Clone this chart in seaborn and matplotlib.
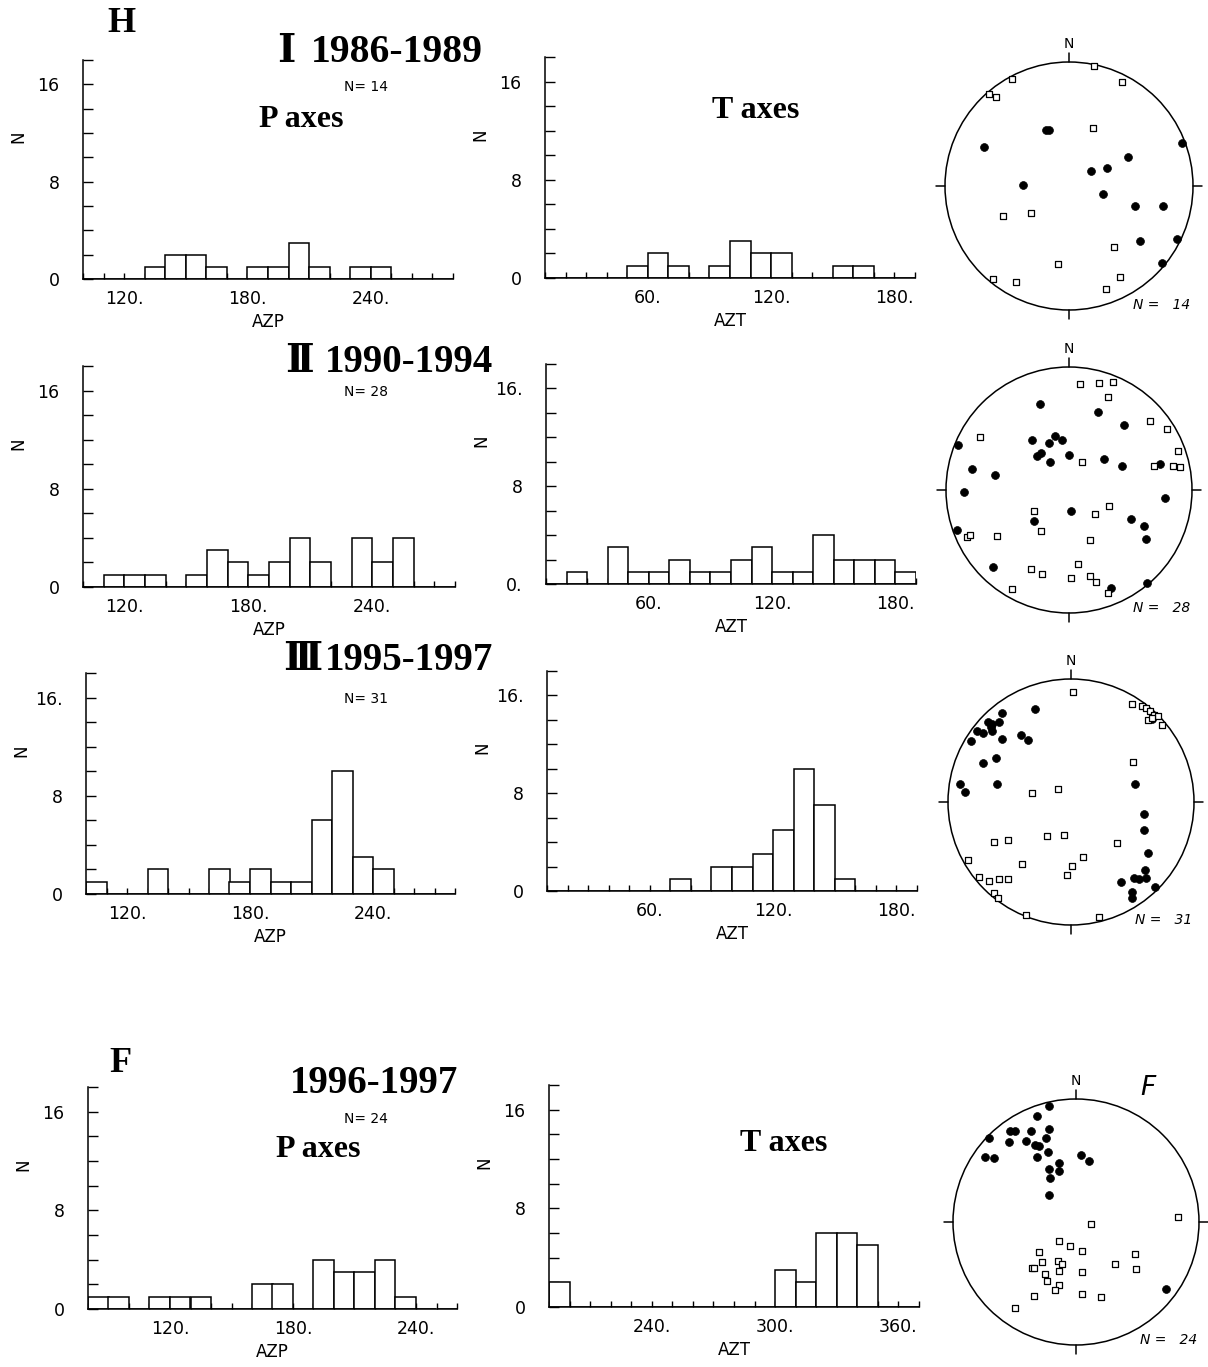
import numpy as np
import pandas as pd
import matplotlib
matplotlib.use("Agg")
import matplotlib.pyplot as plt
from matplotlib.patches import Circle
import seaborn as sns

W, H = 1208, 1367

# ---------------- azimuth histograms: bin start (deg) and count ----------------
p1_bins = [130, 140, 150, 160, 180, 190, 200, 210, 230, 240]
p1_counts = [1, 2, 2, 1, 1, 1, 3, 1, 1, 1]
t1_bins = [50, 60, 70, 90, 100, 110, 120, 150, 160]
t1_counts = [1, 2, 1, 1, 3, 2, 2, 1, 1]

p2_bins = [110, 120, 130, 150, 160, 170, 180, 190, 200, 210, 230, 240, 250]
p2_counts = [1, 1, 1, 1, 3, 2, 1, 2, 4, 2, 4, 2, 4]
t2_bins = [20, 40, 50, 60, 70, 80, 90, 100, 110, 120, 130, 140, 150, 160, 170, 180]
t2_counts = [1, 3, 1, 1, 2, 1, 1, 2, 3, 1, 1, 4, 2, 2, 2, 1]

p3_bins = [100, 130, 160, 170, 180, 190, 200, 210, 220, 230, 240]
p3_counts = [1, 2, 2, 1, 2, 1, 1, 6, 10, 3, 2]
t3_bins = [70, 90, 100, 110, 120, 130, 140, 150]
t3_counts = [1, 2, 2, 3, 5, 10, 7, 1]

p4_bins = [80, 90, 110, 120, 130, 160, 170, 190, 200, 210, 220, 230]
p4_counts = [1, 1, 1, 1, 1, 2, 2, 4, 3, 3, 4, 1]
t4_bins = [190, 300, 310, 320, 330, 340]
t4_counts = [2, 3, 2, 6, 6, 5]

# axis start of each histogram (each spans 180 degrees)
p_starts = [100, 100, 100, 80]
t_starts = [10, 10, 10, 190]
p_ticklabels = [[120, 180, 240]] * 4
t_ticklabels = [[60, 120, 180]] * 3 + [[240, 300, 360]]

period_titles = ["1986-1989", "1990-1994", "1995-1997", "1996-1997"]
period_numerals = ["\u2160", "\u2161", "\u2162", ""]
n_events = [14, 28, 31, 24]

# ---------------- stereonet projections (east, north) in units of net radius ----------------
# open squares
net1_sq_e = [0.20, 0.425, -0.457, -0.642, -0.589, 0.194, -0.530, -0.306, 0.366, -0.086, 0.411, 0.298, -0.616, -0.425]
net1_sq_n = [0.97, 0.84, 0.863, 0.739, 0.718, 0.468, -0.242, -0.220, -0.489, -0.632, -0.737, -0.831, -0.753, -0.774]
# filled dots
net1_dot_e = [-0.185, -0.164, -0.683, 0.911, 0.476, 0.175, 0.306, -0.368, 0.272, 0.532, 0.758, 0.573, 0.868, 0.750]
net1_dot_n = [0.454, 0.454, 0.312, 0.349, 0.234, 0.124, 0.148, 0.008, -0.067, -0.161, -0.161, -0.441, -0.430, -0.621]

net2_sq_e = [0.092, 0.244, 0.360, 0.314, 0.661, 0.799, 0.886, -0.726, 0.108, 0.691, 0.846, 0.905, -0.285, 0.325,
             0.209, -0.230, -0.832, -0.802, -0.583, 0.168, 0.076, -0.309, -0.220, 0.016, 0.171, 0.222, 0.314, -0.466]
net2_sq_n = [0.864, 0.873, 0.881, 0.756, 0.561, 0.496, 0.314, 0.428, 0.225, 0.198, 0.195, 0.187, -0.168, -0.133,
             -0.198, -0.336, -0.382, -0.363, -0.377, -0.404, -0.604, -0.642, -0.680, -0.715, -0.702, -0.745, -0.835, -0.805]
net2_dot_e = [-0.238, 0.236, 0.450, -0.905, -0.301, -0.165, -0.111, -0.054, 0.000, -0.225, -0.257, -0.154, 0.285, 0.428,
              0.737, -0.789, -0.602, -0.856, 0.778, 0.019, -0.285, 0.507, 0.610, 0.626, -0.908, -0.621, 0.339, 0.634]
net2_dot_n = [0.702, 0.631, 0.531, 0.369, 0.409, 0.382, 0.439, 0.404, 0.287, 0.301, 0.279, 0.225, 0.249, 0.198,
              0.214, 0.171, 0.122, -0.016, -0.065, -0.171, -0.252, -0.236, -0.290, -0.396, -0.322, -0.629, -0.799, -0.756]

net3_sq_e = [0.014, 0.493, 0.575, 0.610, 0.642, 0.675, 0.705, 0.629, 0.737, 0.661, 0.507, -0.108, -0.314, -0.629, -0.509,
             -0.198, -0.057, 0.371, -0.840, -0.398, 0.100, 0.005, -0.030, -0.748, -0.667, -0.583, -0.515, -0.623, -0.591,
             -0.369, 0.230]
net3_sq_n = [0.894, 0.797, 0.778, 0.762, 0.737, 0.710, 0.696, 0.664, 0.626, 0.683, 0.325, 0.106, 0.073, -0.325, -0.306,
             -0.274, -0.266, -0.331, -0.474, -0.504, -0.450, -0.518, -0.593, -0.612, -0.640, -0.623, -0.623, -0.737, -0.783,
             -0.916, -0.938]
net3_dot_e = [-0.564, -0.293, -0.678, -0.640, -0.583, -0.650, -0.767, -0.718, -0.645, -0.813, -0.564, -0.407, -0.347, -0.713,
              -0.612, -0.902, -0.862, -0.602, 0.520, 0.596, 0.596, 0.629, 0.602, 0.515, 0.553, 0.612, 0.404, 0.493, 0.493,
              0.683, 0.656]
net3_dot_n = [0.724, 0.759, 0.648, 0.637, 0.650, 0.610, 0.575, 0.561, 0.575, 0.499, 0.515, 0.545, 0.507, 0.317,
              0.355, 0.144, 0.081, 0.149, 0.149, -0.098, -0.225, -0.415, -0.556, -0.621, -0.626, -0.615, -0.650, -0.732, -0.780,
              -0.688, 0.678]

net4_sq_e = [0.827, 0.119, -0.135, -0.049, 0.046, -0.300, 0.478, -0.273, -0.149, -0.111, -0.359, -0.338, -0.135, 0.046,
             0.319, 0.486, -0.251, -0.232, -0.135, -0.170, -0.341, 0.046, 0.203, -0.495]
net4_sq_n = [0.038, -0.014, -0.157, -0.192, -0.235, -0.241, -0.257, -0.327, -0.316, -0.343, -0.376, -0.376, -0.397, -0.408,
             -0.343, -0.386, -0.419, -0.478, -0.514, -0.554, -0.603, -0.589, -0.611, -0.700]
net4_dot_e = [-0.216, -0.319, -0.535, -0.495, -0.368, -0.216, -0.711, -0.543, -0.408, -0.332, -0.297, -0.243, -0.230, -0.743,
              -0.670, -0.314, 0.038, 0.108, -0.135, -0.216, -0.135, -0.211, -0.222, 0.730]
net4_dot_n = [0.943, 0.862, 0.743, 0.743, 0.738, 0.759, 0.684, 0.649, 0.657, 0.630, 0.614, 0.681, 0.573, 0.527,
              0.522, 0.527, 0.546, 0.500, 0.481, 0.430, 0.414, 0.354, 0.216, -0.546]

sns.set_style("ticks")
plt.rcParams["font.family"] = ["DejaVu Sans"]
plt.rcParams.update({"text.color": "black", "axes.labelcolor": "black",
                     "xtick.color": "black", "ytick.color": "black",
                     "axes.edgecolor": "black"})
SERIF = ["Liberation Serif", "DejaVu Serif"]

fig = plt.figure(figsize=(W / 100, H / 100), dpi=100)


def px_axes(left, right, base, top):
    return fig.add_axes([left / W, 1 - base / H, (right - left) / W, (base - top) / H])


def draw_hist(box, bins, counts, lo, ticklabels, xlabel, ylabels):
    ax = px_axes(*box)
    edges = list(range(lo, lo + 181, 10))
    df = pd.DataFrame({"azimuth": np.asarray(bins, dtype=float) + 5.0,
                       "count": np.asarray(counts, dtype=float)})
    sns.histplot(data=df, x="azimuth", weights="count", binwidth=10, binrange=(lo, lo + 180),
                 ax=ax, color="white", edgecolor="black", linewidth=1.1, alpha=1.0)
    ax.set_xlim(lo, lo + 180)
    ax.set_ylim(0, 18)
    for s in ("top", "right"):
        ax.spines[s].set_visible(False)
    for s in ("left", "bottom"):
        ax.spines[s].set_linewidth(1.1)
        ax.spines[s].set_color("black")
    ax.set_yticks(list(range(0, 19, 2)))
    ax.set_yticklabels([ylabels.get(v, "") for v in range(0, 19, 2)])
    ax.set_xticks(edges)
    ax.set_xticklabels([f"{v}." if v in ticklabels else "" for v in edges])
    ax.tick_params(axis="y", left=True, direction="in", length=7, width=1, pad=17,
                   labelsize=12.5, colors="black")
    ax.tick_params(axis="x", bottom=True, direction="in", length=4.5, width=1, pad=8,
                   labelsize=12.5, colors="black")
    ax.set_ylabel("N", fontsize=12, rotation=90)
    ax.yaxis.set_label_coords(-0.150, 0.65)
    ax.set_xlabel(xlabel, fontsize=12)
    ax.xaxis.set_label_coords(0.5, -0.155)
    return ax


def draw_net(cx, cy, R, sq_e, sq_n, dot_e, dot_n, n):
    half = 1.3 * R
    ax = fig.add_axes([(cx - half) / W, 1 - (cy + half) / H, 2 * half / W, 2 * half / H])
    ax.set_xlim(-1.3, 1.3)
    ax.set_ylim(-1.3, 1.3)
    ax.set_aspect("equal")
    ax.axis("off")
    ax.add_patch(Circle((0, 0), 1, fill=False, lw=1.1, color="black"))
    for dx, dy in [(0, 1), (1, 0), (0, -1), (-1, 0)]:
        ax.plot([dx, dx * 1.07], [dy, dy * 1.07], color="black", lw=1.1)
    sns.scatterplot(x=dot_e, y=dot_n, marker="o", color="black", edgecolor="black",
                    s=32, linewidth=0.5, ax=ax, legend=False, zorder=3)
    sns.scatterplot(x=sq_e, y=sq_n, marker="s", color="white", edgecolor="black",
                    s=24, linewidth=0.9, ax=ax, legend=False, zorder=4)
    ax.text(0, 1.09, "N", ha="center", va="bottom", fontsize=10)
    ax.text(0.52, -0.96, f"N =   {n}", ha="left", va="center", fontsize=10, style="italic")
    return ax


# histogram boxes: left, right, baseline, top (pixels)
p_boxes = [(83, 453, 279, 60), (83, 455, 587, 366), (86, 455, 894, 673), (88, 457, 1309, 1087)]
t_boxes = [(545, 915, 278, 57), (546, 916, 584, 364), (547, 917, 891, 671), (549, 919, 1307, 1085)]
p_data = [(p1_bins, p1_counts), (p2_bins, p2_counts), (p3_bins, p3_counts), (p4_bins, p4_counts)]
t_data = [(t1_bins, t1_counts), (t2_bins, t2_counts), (t3_bins, t3_counts), (t4_bins, t4_counts)]
p_ylabels = [{0: "0", 8: "8", 16: "16"}, {0: "0", 8: "8", 16: "16"},
             {0: "0", 8: "8", 16: "16."}, {0: "0", 8: "8", 16: "16"}]
t_ylabels = [{0: "0", 8: "8", 16: "16"}, {0: "0.", 8: "8", 16: "16."},
             {0: "0", 8: "8", 16: "16."}, {0: "0", 8: "8", 16: "16"}]

for i in range(4):
    draw_hist(p_boxes[i], *p_data[i], p_starts[i], p_ticklabels[i], "AZP", p_ylabels[i])
    draw_hist(t_boxes[i], *t_data[i], t_starts[i], t_ticklabels[i], "AZT", t_ylabels[i])

# stereonets: centre x, centre y, radius (pixels)
nets = [(1069, 186, 124, net1_sq_e, net1_sq_n, net1_dot_e, net1_dot_n),
        (1069, 490, 123, net2_sq_e, net2_sq_n, net2_dot_e, net2_dot_n),
        (1071, 802, 123, net3_sq_e, net3_sq_n, net3_dot_e, net3_dot_n),
        (1076, 1222, 123, net4_sq_e, net4_sq_n, net4_dot_e, net4_dot_n)]
net_axes = [draw_net(*nets[i], n_events[i]) for i in range(4)]
net_axes[3].text(0.52, 1.09, "F", ha="left", va="center", fontsize=19,
                 style="italic", fontweight="light")


def ftext(x, y, s, **kw):
    fig.text(x / W, 1 - y / H, s, **kw)


# panel letters
ftext(107, 24, "H", fontsize=26, fontweight="bold", family=SERIF, va="center", ha="left")
ftext(109, 1064, "F", fontsize=26, fontweight="bold", family=SERIF, va="center", ha="left")

# period titles
numeral_x = [277, 285, 283]
years_x = [311, 325, 325, 290]
title_base = [62, 372, 670, 1093]
for i in range(4):
    if period_numerals[i]:
        ftext(numeral_x[i], title_base[i], period_numerals[i], fontsize=28, fontweight="bold",
              family=SERIF, va="baseline", ha="left")
    ftext(years_x[i], title_base[i], period_titles[i], fontsize=28.5 if i == 0 else 28,
          fontweight="bold", family=SERIF, va="baseline", ha="left")

# event counts above the P histograms
n_y = [87, 392, 699, 1119]
for i in range(4):
    ftext(366, n_y[i], f"N= {n_events[i]}", fontsize=10, va="center", ha="center")

# axis-type captions
ftext(301, 127, "P axes", fontsize=23, fontweight="bold", family=SERIF, va="baseline", ha="center")
ftext(756, 118, "T axes", fontsize=23, fontweight="bold", family=SERIF, va="baseline", ha="center")
ftext(318, 1157, "P axes", fontsize=23, fontweight="bold", family=SERIF, va="baseline", ha="center")
ftext(784, 1151, "T axes", fontsize=23, fontweight="bold", family=SERIF, va="baseline", ha="center")

fig.savefig("out.png", dpi=100, facecolor="white")
